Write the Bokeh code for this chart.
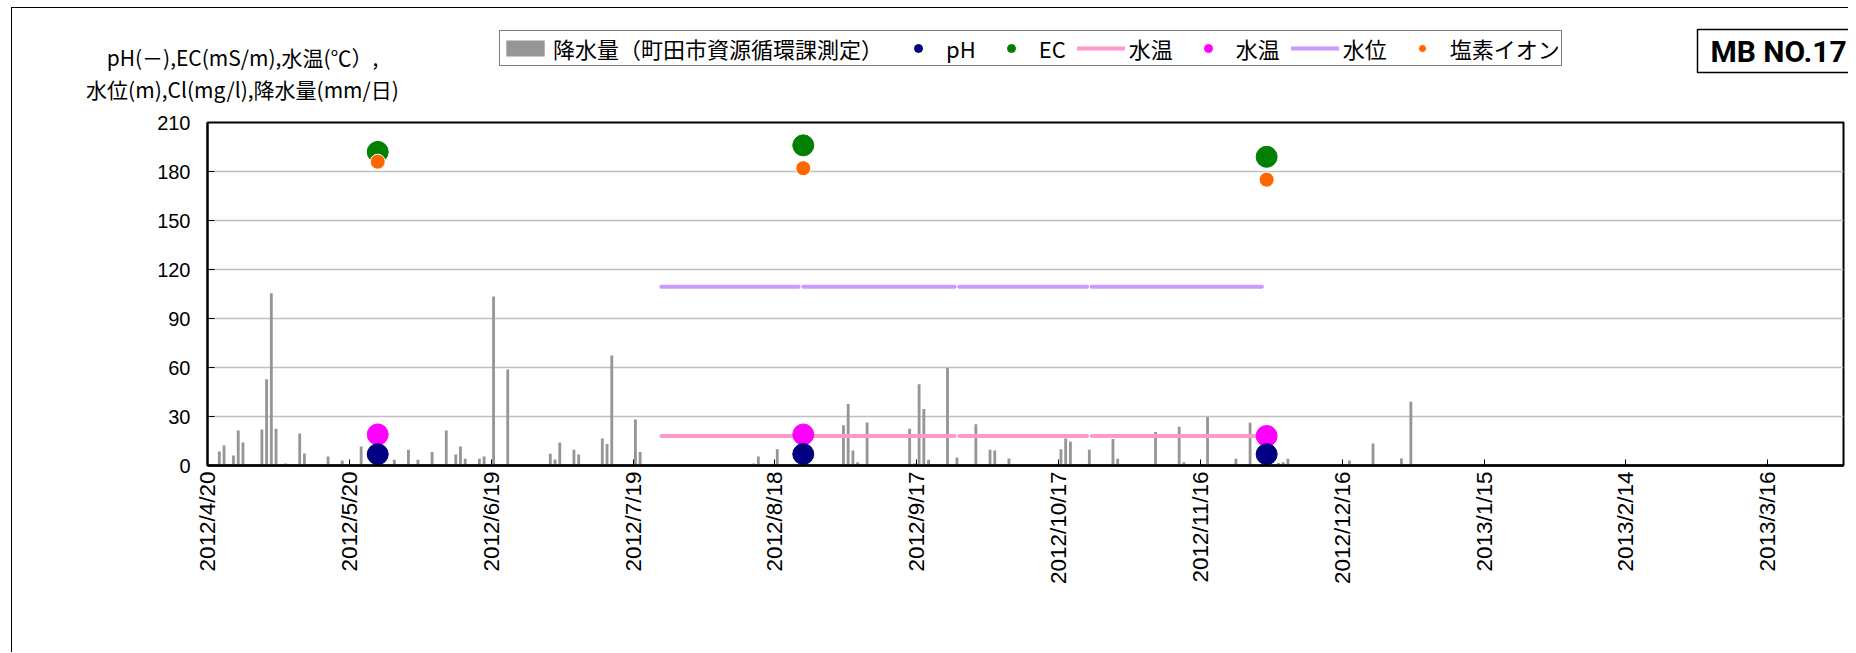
import math
import pandas as pd
from bokeh.plotting import figure
from bokeh.layouts import column
from bokeh.models import FixedTicker, Range1d, Legend, LegendItem, Label
from bokeh.embed import file_html
from bokeh.resources import INLINE

# ---------------- data ----------------
rain_dates = ["2012/4/22", "2012/4/23", "2012/4/24", "2012/4/25", "2012/4/26", "2012/4/27",
              "2012/5/1", "2012/5/2", "2012/5/3", "2012/5/4", "2012/5/6", "2012/5/9", "2012/5/10",
              "2012/5/15", "2012/5/18", "2012/5/22", "2012/5/29", "2012/6/1", "2012/6/3", "2012/6/6",
              "2012/6/8", "2012/6/9", "2012/6/10", "2012/6/11", "2012/6/12", "2012/6/13", "2012/6/16",
              "2012/6/17", "2012/6/19", "2012/6/20", "2012/6/22", "2012/6/25", "2012/7/1", "2012/7/2",
              "2012/7/3", "2012/7/4", "2012/7/6", "2012/7/7", "2012/7/12", "2012/7/13", "2012/7/14",
              "2012/7/19", "2012/7/20", "2012/7/21", "2012/7/22", "2012/8/13", "2012/8/14", "2012/8/18",
              "2012/9/1", "2012/9/2", "2012/9/3", "2012/9/4", "2012/9/6", "2012/9/15", "2012/9/16",
              "2012/9/17", "2012/9/18", "2012/9/19", "2012/9/22", "2012/9/23", "2012/9/25", "2012/9/29",
              "2012/10/2", "2012/10/3", "2012/10/6", "2012/10/17", "2012/10/18", "2012/10/19",
              "2012/10/23", "2012/10/28", "2012/10/29", "2012/11/5", "2012/11/6", "2012/11/11",
              "2012/11/12", "2012/11/17", "2012/11/23", "2012/11/26", "2012/12/2", "2012/12/3",
              "2012/12/4", "2012/12/6", "2012/12/17", "2012/12/22", "2012/12/28", "2012/12/29",
              "2012/12/30"]
rain_mm = [8.6, 12.3, 0.6, 6.1, 21.5, 14.1,
           22.1, 52.8, 105.4, 22.5, 1.2, 19.6, 7.4,
           5.5, 3.1, 11.7, 3.5, 9.6, 3.5, 8.2,
           0.6, 21.5, 0.5, 6.8, 11.7, 4.1, 4.1,
           5.5, 103.5, 0.6, 58.7, 0.6, 7.2, 3.7,
           14.1, 0.6, 9.6, 6.8, 16.6, 13.1, 67.3,
           28.2, 8.2, 0.6, 0.6, 1.2, 5.5, 10.0,
           24.6, 37.7, 9.2, 2.0, 26.4, 22.5, 1.2,
           49.7, 34.6, 3.5, 0.6, 59.8, 4.9, 25.2,
           9.6, 9.2, 4.3, 10.0, 16.6, 14.5,
           9.6, 16.2, 4.1, 0.6, 20.5, 23.7,
           2.0, 29.7, 4.1, 26.2, 1.6, 2.0,
           4.1, 0.6, 3.1, 13.5, 4.3, 0.6,
           39.1]

sample_dates = ["2012/5/26", "2012/8/24", "2012/11/30"]
ph = [6.9, 7.0, 6.9]
ec = [192, 196, 189]
temp_sample = [19.0, 19.0, 18.1]
chloride = [186, 182, 175]

logger_start = ["2012/7/25", "2012/8/24", "2012/9/26", "2012/10/24"]
logger_end = ["2012/8/23", "2012/9/25", "2012/10/23", "2012/11/29"]
logger_temp = [18.1, 18.1, 18.1, 18.1]
logger_level = [109.4, 109.4, 109.4, 109.4]

x_tick_labels = ["2012/4/20", "2012/5/20", "2012/6/19", "2012/7/19", "2012/8/18", "2012/9/17",
                 "2012/10/17", "2012/11/16", "2012/12/16", "2013/1/15", "2013/2/14", "2013/3/16"]
y_ticks = [0, 30, 60, 90, 120, 150, 180, 210]
x_min, x_max = "2012/4/20", "2013/4/1"
y_min, y_max = 0, 210

title_text = "MB NO.17"
axis_title_1 = "pH(－),EC(mS/m),水温(℃）,"
axis_title_2 = "水位(m),Cl(mg/l),降水量(mm/日)"
legend_labels = ["降水量（町田市資源循環課測定）", "pH", "EC", "水温", "水温", "水位", "塩素イオン"]


def to_ms(dates):
    d = pd.to_datetime(dates, format="%Y/%m/%d")
    return [float(v) for v in (d - pd.Timestamp("1970-01-01")) // pd.Timedelta(milliseconds=1)]


DAY = 86400000.0
JP = "Noto Sans CJK JP"
LAT = "Liberation Sans"

rain_style = dict(fill_color="#969696", line_color=None)
temp_line_style = dict(line_color="#FF99CC", line_width=4, line_cap="round")
level_line_style = dict(line_color="#CC99FF", line_width=4, line_cap="round")
ec_style = dict(size=21, fill_color="#008000", line_color="#008000")
cl_style = dict(size=15, fill_color="#FF6600", line_color="white", line_width=1)
temp_style = dict(size=21, fill_color="#FF00FF", line_color="#FF00FF")
ph_style = dict(size=21, fill_color="#000080", line_color="#000080")

rain_x = [v + DAY / 2 for v in to_ms(rain_dates)]
sx = to_ms(sample_dates)
seg_x = [[a, b] for a, b in zip(to_ms(logger_start), to_ms(logger_end))]
temp_ys = [[v, v] for v in logger_temp]
level_ys = [[v, v] for v in logger_level]
tick_ms = to_ms(x_tick_labels)

W = 1836
HH = 100  # header height


def draw_series(fig):
    return [
        fig.vbar(x=rain_x, top=rain_mm, width=0.6 * DAY, bottom=0, **rain_style),
        fig.multi_line(xs=seg_x, ys=temp_ys, **temp_line_style),
        fig.multi_line(xs=seg_x, ys=level_ys, **level_line_style),
        fig.scatter(sx, ec, **ec_style),
        fig.scatter(sx, chloride, **cl_style),
        fig.scatter(sx, temp_sample, **temp_style),
        fig.scatter(sx, ph, **ph_style),
    ]


# ---------------- main chart ----------------
p = figure(width=W, height=544, x_axis_type="datetime", output_backend="svg",
           toolbar_location=None,
           x_range=Range1d(to_ms([x_min])[0], to_ms([x_max])[0]),
           y_range=Range1d(y_min, y_max),
           min_border_left=195, min_border_right=5, min_border_top=14, min_border_bottom=187)
p.frame_align = False

p.background_fill_color = "white"
p.border_fill_color = "white"
p.outline_line_color = "black"
p.outline_line_width = 2
p.xgrid.grid_line_color = None
p.ygrid.grid_line_color = "#C0C0C0"
p.ygrid.grid_line_width = 1.5

p.xaxis.ticker = FixedTicker(ticks=tick_ms)
p.xaxis.major_label_overrides = {t: s for t, s in zip(tick_ms, x_tick_labels)}
p.xaxis.major_label_orientation = math.pi / 2
p.xaxis.major_tick_in = 6
p.xaxis.major_tick_out = 0
p.xaxis.minor_tick_line_color = None
p.xaxis.axis_line_width = 2.5
p.xaxis.major_label_standoff = 6
p.xaxis.major_label_text_font = LAT
p.xaxis.major_label_text_font_size = "22.5px"
p.xaxis.major_label_text_color = "black"

p.yaxis.ticker = FixedTicker(ticks=y_ticks)
p.yaxis.major_tick_in = 7
p.yaxis.major_tick_out = 0
p.yaxis.minor_tick_line_color = None
p.yaxis.axis_line_width = 2
p.yaxis.major_label_standoff = 17
p.yaxis.major_label_text_font = LAT
p.yaxis.major_label_text_font_size = "20px"
p.yaxis.major_label_text_color = "black"

draw_series(p)

# ---------------- header (legend, axis title, chart title) ----------------
# The header repeats the series only as legend proxies; its 0..1 ranges keep them out of view.
h = figure(width=W, height=HH, output_backend="svg", toolbar_location=None,
           x_range=Range1d(0, 1), y_range=Range1d(0, 1),
           x_axis_location=None, y_axis_location=None,
           min_border_left=0, min_border_right=0, min_border_top=0, min_border_bottom=0)
h.frame_align = False
h.outline_line_color = None
h.grid.grid_line_color = None
h.background_fill_color = "white"
h.border_fill_color = "white"

r_rain, r_tl, r_ll, r_ec, r_cl, r_t, r_ph = draw_series(h)
lr = [r_rain, r_ph, r_ec, r_tl, r_t, r_ll, r_cl]
legend = Legend(items=[LegendItem(label=t, renderers=[r]) for t, r in zip(legend_labels, lr)],
                orientation="horizontal", location=(487, 42))
legend.border_line_color = "black"
legend.border_line_width = 1
legend.background_fill_color = "white"
legend.background_fill_alpha = 1
legend.label_text_font = JP
legend.label_text_font_size = "22px"
legend.label_text_color = "black"
legend.glyph_width = 48
legend.glyph_height = 20
legend.label_height = 20
legend.label_standoff = 4
legend.spacing = 11
legend.padding = 1
legend.margin = 0
h.add_layout(legend)

for txt, yy in ((axis_title_1, HH - 48), (axis_title_2, HH - 80.5)):
    h.add_layout(Label(x=230, y=yy, x_units="screen", y_units="screen", text=txt,
                       text_align="center", text_baseline="middle",
                       text_font=JP, text_font_size="21px", text_color="black"))

h.add_layout(Label(x=1685, y=HH - 42.5, x_units="screen", y_units="screen", text=title_text,
                   text_align="left", text_baseline="middle",
                   text_font="Roboto", text_font_style="bold", text_font_size="30px",
                   text_color="black",
                   border_line_color="black", border_line_width=1.5,
                   background_fill_color="white",
                   padding=dict(left=13, right=40, top=4, bottom=4)))

layout = column(h, p, spacing=0,
                styles={"border-left": "1px solid #000", "border-top": "1px solid #000",
                        "margin-left": "11px", "margin-top": "7px"})

open("out.html", "w").write(file_html(layout, INLINE))
